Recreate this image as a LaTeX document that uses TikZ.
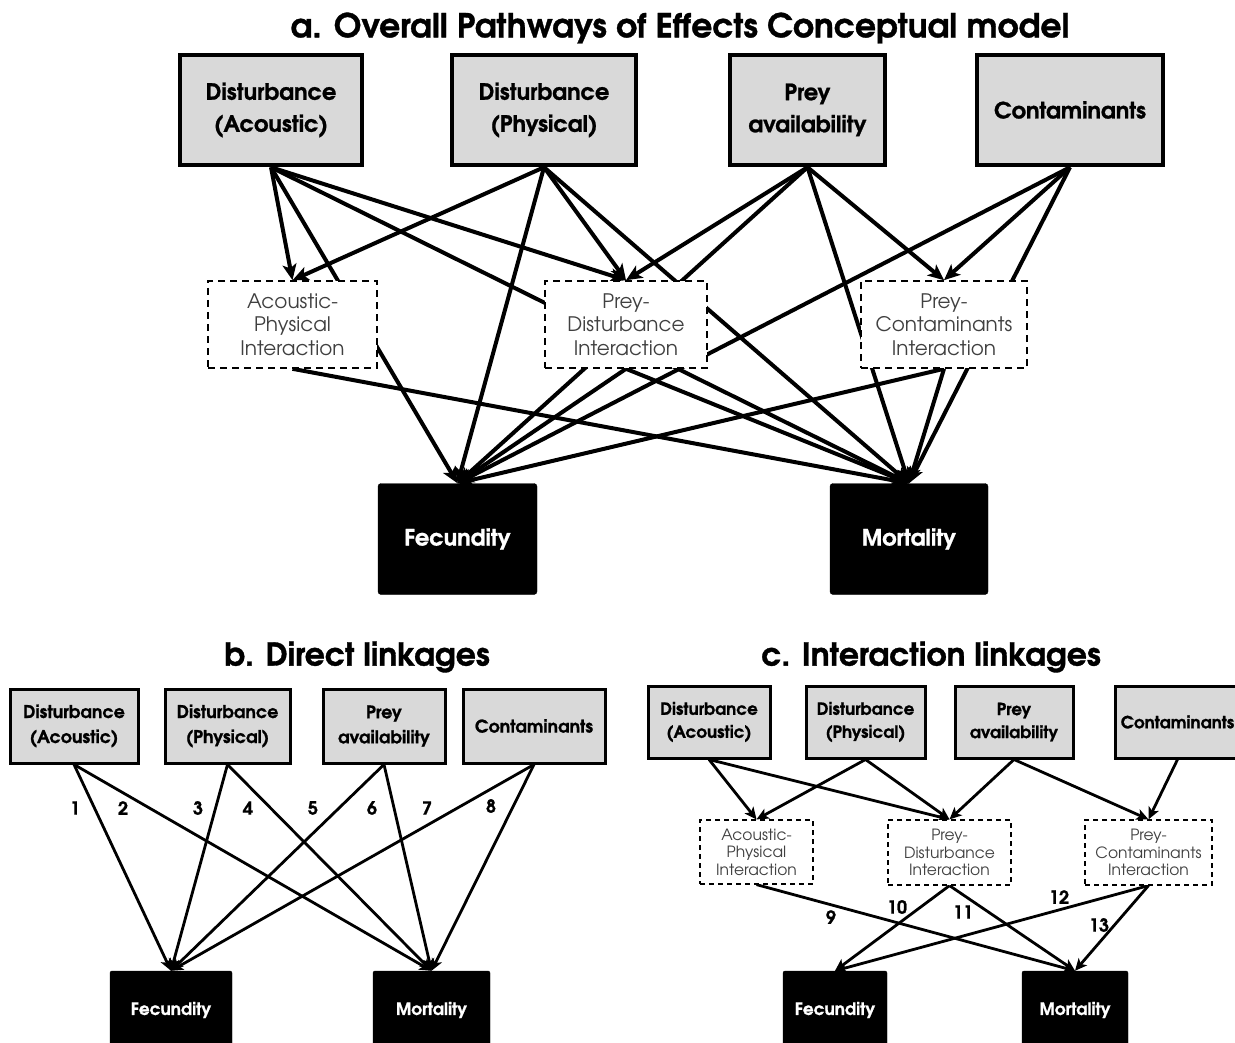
\documentclass[tikz,border=0pt]{standalone}
\usepackage{fontspec}
\setmainfont{texgyreadventor}[Extension=.otf, UprightFont=*-regular, BoldFont=*-bold,
  BoldFeatures={FakeBold=1}]
\usetikzlibrary{arrows.meta,backgrounds}
\definecolor{boxgray}{HTML}{D9D9D9}
\definecolor{softtext}{HTML}{404040}

\tikzset{
  % panel a
  stressA/.style={draw=black, fill=boxgray, line width=4.5pt, inner sep=0pt, align=center,
    font=\fontsize{22.5}{32}\selectfont\bfseries},
  interA/.style={draw=black, fill=white, dashed, dash pattern=on 7pt off 5pt, line width=1.6pt,
    inner sep=0pt, align=center, text=softtext, font=\fontsize{20}{23.5}\selectfont},
  outA/.style={draw=black, fill=black, rounded corners=3pt, inner sep=0pt, text=white, align=center,
    font=\fontsize{22.5}{26}\selectfont\bfseries},
  edgeA/.style={line width=4pt, -{Stealth[length=16pt,width=14pt,inset=4pt]}},
  % panels b and c
  stressB/.style={draw=black, fill=boxgray, line width=3pt, inner sep=0pt, align=center,
    font=\fontsize{17.5}{25}\selectfont\bfseries},
  stressC/.style={draw=black, fill=boxgray, line width=3pt, inner sep=0pt, align=center,
    font=\fontsize{16.8}{23}\selectfont\bfseries},
  interS/.style={draw=black, fill=white, dashed, dash pattern=on 5pt off 4pt, line width=1.2pt,
    inner sep=0pt, align=center, text=softtext, font=\fontsize{15.5}{17.5}\selectfont},
  outS/.style={draw=black, fill=black, rounded corners=2pt, inner sep=0pt, text=white, align=center,
    font=\fontsize{17}{20}\selectfont\bfseries},
  edgeS/.style={line width=2.8pt, -{Stealth[length=12pt,width=11pt,inset=3pt]}},
  title/.style={inner sep=0pt, font=\fontsize{31.5}{36}\selectfont\bfseries},
  num/.style={inner sep=0pt, font=\fontsize{18}{20}\selectfont\bfseries},
}

\begin{document}
\begin{tikzpicture}[x=1pt, y=-1pt]
\useasboundingbox (0,0) rectangle (1235,1043);

%% ---------------- a. Overall pathways ----------------
\node[title, font=\fontsize{33}{38}\selectfont\bfseries] (ta) at (680,28) {a. Overall Pathways of Effects Conceptual model};

\node[stressA, minimum width=182pt, minimum height=110pt] (aAc) at (271,110) {Disturbance\\(Acoustic)};
\node[stressA, minimum width=184pt, minimum height=110pt] (aPh) at (544,110) {Disturbance\\(Physical)};
\node[stressA, minimum width=155pt, minimum height=110pt] (aPr) at (807.5,110) {Prey\\availability};
\node[stressA, minimum width=186pt, minimum height=110pt] (aCo) at (1070,110) {Contaminants};

\node[interA, minimum width=169pt, minimum height=87pt] (aAP) at (292.5,324.5) {Acoustic-\\Physical\\Interaction};
\node[interA, minimum width=162pt, minimum height=87pt] (aPD) at (626,324.5) {Prey-\\Disturbance\\Interaction};
\node[interA, minimum width=166pt, minimum height=87pt] (aPC) at (944,324.5) {Prey-\\Contaminants\\Interaction};

\node[outA, minimum width=159pt, minimum height=111pt] (aFe) at (457.5,539) {Fecundity};
\node[outA, minimum width=158pt, minimum height=111pt] (aMo) at (909,539) {Mortality};

\begin{pgfonlayer}{background}
  % stressors to interaction terms
  \draw[edgeA] (aAc.south) -- (aAP.north);
  \draw[edgeA] (aPh.south) -- (aAP.north);
  \draw[edgeA] (aAc.south) -- (aPD.north);
  \draw[edgeA] (aPh.south) -- (aPD.north);
  \draw[edgeA] (aPr.south) -- (aPD.north);
  \draw[edgeA] (aPr.south) -- (aPC.north);
  \draw[edgeA] (aCo.south) -- (aPC.north);
  % direct stressor effects
  \foreach \s in {aAc,aPh,aPr,aCo} {
    \draw[edgeA] (\s.south) -- (aFe.north);
    \draw[edgeA] (\s.south) -- (aMo.north);
  }
  % interaction effects
  \draw[edgeA] (aAP.south) -- (aMo.north);
  \draw[edgeA] (aPD.south) -- (aFe.north);
  \draw[edgeA] (aPD.south) -- (aMo.north);
  \draw[edgeA] (aPC.south) -- (aFe.north);
  \draw[edgeA] (aPC.south) -- (aMo.north);
\end{pgfonlayer}

%% ---------------- b. Direct linkages ----------------
\node[title] (tb) at (357,657) {b. Direct linkages};

\node[stressB, minimum width=128pt, minimum height=74pt] (bAc) at (74,726) {Disturbance\\(Acoustic)};
\node[stressB, minimum width=125pt, minimum height=74pt] (bPh) at (227.5,726) {Disturbance\\(Physical)};
\node[stressB, minimum width=122pt, minimum height=74pt] (bPr) at (384,726) {Prey\\availability};
\node[stressB, minimum width=142pt, minimum height=74pt] (bCo) at (534,726) {Contaminants};

\node[outS, minimum width=122pt, minimum height=78pt] (bFe) at (171,1010) {Fecundity};
\node[outS, minimum width=117pt, minimum height=78pt] (bMo) at (431.5,1010) {Mortality};

\begin{pgfonlayer}{background}
  \foreach \s in {bAc,bPh,bPr,bCo} {
    \draw[edgeS] (\s.south) -- (bFe.north);
    \draw[edgeS] (\s.south) -- (bMo.north);
  }
\end{pgfonlayer}

\node[num] (n1) at (75,808) {1};
\node[num] (n2) at (123,808) {2};
\node[num] (n3) at (198,808) {3};
\node[num] (n4) at (248,808) {4};
\node[num] (n5) at (313,808) {5};
\node[num] (n6) at (372,808) {6};
\node[num] (n7) at (427,808) {7};
\node[num] (n8) at (491,806) {8};

%% ---------------- c. Interaction linkages ----------------
\node[title] (tc) at (931,657) {c. Interaction linkages};

\node[stressC, minimum width=122pt, minimum height=72pt] (cAc) at (709,722) {Disturbance\\(Acoustic)};
\node[stressC, minimum width=119pt, minimum height=72pt] (cPh) at (865.5,722) {Disturbance\\(Physical)};
\node[stressC, minimum width=118pt, minimum height=72pt] (cPr) at (1014,722) {Prey\\availability};
\node[stressC, minimum width=125pt, minimum height=72pt] (cCo) at (1177.5,722) {Contaminants};

\node[interS, minimum width=113pt, minimum height=64pt] (cAP) at (756.5,852) {Acoustic-\\Physical\\Interaction};
\node[interS, minimum width=123pt, minimum height=65pt] (cPD) at (949.5,852.5) {Prey-\\Disturbance\\Interaction};
\node[interS, minimum width=127pt, minimum height=65pt] (cPC) at (1148.5,852.5) {Prey-\\Contaminants\\Interaction};

\node[outS, minimum width=104pt, minimum height=78pt] (cFe) at (835,1010) {Fecundity};
\node[outS, minimum width=106pt, minimum height=78pt] (cMo) at (1075,1010) {Mortality};

\begin{pgfonlayer}{background}
  \draw[edgeS] (cAc.south) -- (cAP.north);
  \draw[edgeS] (cPh.south) -- (cAP.north);
  \draw[edgeS] (cAc.south) -- (cPD.north);
  \draw[edgeS] (cPh.south) -- (cPD.north);
  \draw[edgeS] (cPr.south) -- (cPD.north);
  \draw[edgeS] (cPr.south) -- (cPC.north);
  \draw[edgeS] (cCo.south) -- (cPC.north);
  \draw[edgeS] (cAP.south) -- (cMo.north);
  \draw[edgeS] (cPD.south) -- (cFe.north);
  \draw[edgeS] (cPD.south) -- (cMo.north);
  \draw[edgeS] (cPC.south) -- (cFe.north);
  \draw[edgeS] (cPC.south) -- (cMo.north);
\end{pgfonlayer}

\node[num] (n9)  at (831,917) {9};
\node[num] (n10) at (897,907) {10};
\node[num] (n11) at (963,912) {11};
\node[num] (n12) at (1059,897) {12};
\node[num] (n13) at (1099,925) {13};
\end{tikzpicture}
\end{document}
